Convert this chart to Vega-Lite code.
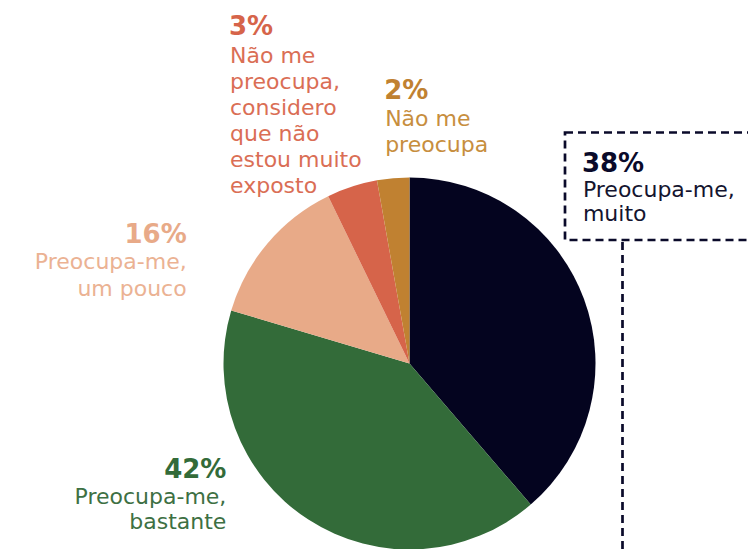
{
  "$schema": "https://vega.github.io/schema/vega-lite/v6.json",
  "width": 677,
  "height": 371,
  "autosize": {"type": "none"},
  "padding": {"left": 71, "top": 178, "right": 0, "bottom": 0},
  "background": "white",
  "config": {"view": {"stroke": null}},
  "data": {
    "values": [
      {"cat": "muito", "order": 1, "value": 38.7, "pct": "38%", "desc": "Preocupa-me,\nmuito"},
      {"cat": "bastante", "order": 2, "value": 40.9, "pct": "42%", "desc": "Preocupa-me,\nbastante"},
      {"cat": "um pouco", "order": 3, "value": 13.2, "pct": "16%", "desc": "Preocupa-me,\num pouco"},
      {"cat": "exposto", "order": 4, "value": 4.4, "pct": "3%", "desc": "Não me\npreocupa,\nconsidero\nque não\nestou muito\nexposto"},
      {"cat": "nao", "order": 5, "value": 2.8, "pct": "2%", "desc": "Não me\npreocupa"}
    ]
  },
  "encoding": {
    "theta": {"field": "value", "type": "quantitative", "stack": true},
    "order": {"field": "order", "type": "quantitative"},
    "detail": {"field": "cat"}
  },
  "layer": [
    {
      "mark": {"type": "arc", "outerRadius": 186},
      "encoding": {
        "color": {
          "field": "cat",
          "type": "nominal",
          "scale": {
            "domain": ["muito", "bastante", "um pouco", "exposto", "nao"],
            "range": ["#04041f", "#336b39", "#e8aa88", "#d6644a", "#c08131"]
          },
          "legend": null
        }
      }
    },
    {
      "data": {"values": [{}]},
      "mark": {"type": "rect", "filled": false, "stroke": "#0a0a2a", "strokeWidth": 2.7, "strokeDash": [8, 5]},
      "encoding": {
        "theta": null, "order": null, "detail": null,
        "x": {"value": 494}, "x2": {"value": 700},
        "y": {"value": -45.5}, "y2": {"value": 62}
      }
    },
    {
      "data": {"values": [{}]},
      "mark": {"type": "rule", "stroke": "#0a0a2a", "strokeWidth": 2.7, "strokeDash": [8, 5]},
      "encoding": {
        "theta": null, "order": null, "detail": null,
        "x": {"value": 551.5},
        "y": {"value": 64}, "y2": {"value": 380}
      }
    },
    {
      "mark": {"type": "text", "radius": 186, "dx": -2, "dy": -127, "align": "left", "baseline": "alphabetic", "font": "DejaVu Sans", "fontSize": 26, "fontWeight": "bold", "color": "#0a0a2a"},
      "encoding": {"text": {"condition": {"test": "datum.cat === 'muito'", "field": "pct"}, "value": ""}}
    },
    {
      "mark": {"type": "text", "radius": 186, "dx": -1, "dy": -102, "align": "left", "baseline": "alphabetic", "font": "DejaVu Sans", "fontSize": 22, "lineBreak": "\n", "lineHeight": 24.5, "color": "#14142f"},
      "encoding": {"text": {"condition": {"test": "datum.cat === 'muito'", "field": "desc"}, "value": ""}}
    },
    {
      "mark": {"type": "text", "radius": 186, "dx": -82, "dy": -42, "align": "right", "baseline": "alphabetic", "font": "DejaVu Sans", "fontSize": 26, "fontWeight": "bold", "color": "#336b39"},
      "encoding": {"text": {"condition": {"test": "datum.cat === 'bastante'", "field": "pct"}, "value": ""}}
    },
    {
      "mark": {"type": "text", "radius": 186, "dx": -82, "dy": -16, "align": "right", "baseline": "alphabetic", "font": "DejaVu Sans", "fontSize": 22, "lineBreak": "\n", "lineHeight": 25, "color": "#3d7043"},
      "encoding": {"text": {"condition": {"test": "datum.cat === 'bastante'", "field": "desc"}, "value": ""}}
    },
    {
      "mark": {"type": "text", "radius": 186, "dx": -81, "dy": 0, "align": "right", "baseline": "alphabetic", "font": "DejaVu Sans", "fontSize": 26, "fontWeight": "bold", "color": "#e8aa88"},
      "encoding": {"text": {"condition": {"test": "datum.cat === 'um pouco'", "field": "pct"}, "value": ""}}
    },
    {
      "mark": {"type": "text", "radius": 186, "dx": -81, "dy": 26, "align": "right", "baseline": "alphabetic", "font": "DejaVu Sans", "fontSize": 22, "lineBreak": "\n", "lineHeight": 26.5, "color": "#ebb293"},
      "encoding": {"text": {"condition": {"test": "datum.cat === 'um pouco'", "field": "desc"}, "value": ""}}
    },
    {
      "mark": {"type": "text", "radius": 186, "dx": -123, "dy": -152, "align": "left", "baseline": "alphabetic", "font": "DejaVu Sans", "fontSize": 26, "fontWeight": "bold", "color": "#d6644a"},
      "encoding": {"text": {"condition": {"test": "datum.cat === 'exposto'", "field": "pct"}, "value": ""}}
    },
    {
      "mark": {"type": "text", "radius": 186, "dx": -122, "dy": -124, "align": "left", "baseline": "alphabetic", "font": "DejaVu Sans", "fontSize": 22, "lineBreak": "\n", "lineHeight": 26, "color": "#da6e55"},
      "encoding": {"text": {"condition": {"test": "datum.cat === 'exposto'", "field": "desc"}, "value": ""}}
    },
    {
      "mark": {"type": "text", "radius": 186, "dx": -9, "dy": -79, "align": "left", "baseline": "alphabetic", "font": "DejaVu Sans", "fontSize": 26, "fontWeight": "bold", "color": "#c08131"},
      "encoding": {"text": {"condition": {"test": "datum.cat === 'nao'", "field": "pct"}, "value": ""}}
    },
    {
      "mark": {"type": "text", "radius": 186, "dx": -8, "dy": -52, "align": "left", "baseline": "alphabetic", "font": "DejaVu Sans", "fontSize": 22, "lineBreak": "\n", "lineHeight": 25.7, "color": "#c78e3e"},
      "encoding": {"text": {"condition": {"test": "datum.cat === 'nao'", "field": "desc"}, "value": ""}}
    }
  ]
}
